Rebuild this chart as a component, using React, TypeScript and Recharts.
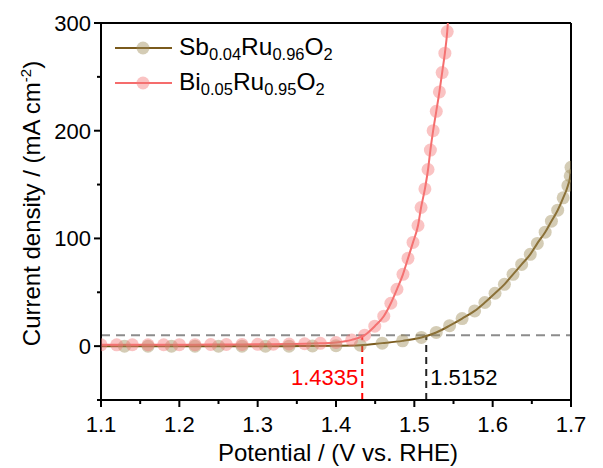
import { LineChart, Line, XAxis, YAxis, ReferenceLine, Legend } from 'recharts';

const FONT = '"Liberation Sans", Arial, sans-serif';

// Sb0.04Ru0.96O2
const sbPotential = [
  1.1, 1.13, 1.16, 1.19, 1.22, 1.25, 1.28, 1.31, 1.34, 1.37, 1.4, 1.431, 1.459, 1.485, 1.509, 1.528,
  1.545, 1.561, 1.577, 1.59, 1.603, 1.615, 1.626, 1.637, 1.648, 1.657, 1.667, 1.675, 1.683, 1.69,
  1.696, 1.699, 1.7
];
const sbCurrent = [
  0, 0, 0, 0, 0, 0, 0, 0, 0, 0.2, 0.4, 0.9, 2.8, 4.9, 8.1, 12.7, 19, 25.6, 32.7, 40.5, 49.1, 57.4,
  66.7, 75.9, 85.2, 95.4, 105.8, 116, 126.2, 137.7, 149, 158, 166
];

// Bi0.05Ru0.95O2
const biPotential = [
  1.1, 1.12, 1.14, 1.16, 1.18, 1.2, 1.22, 1.24, 1.26, 1.28, 1.3, 1.32, 1.34, 1.36, 1.38, 1.4, 1.42,
  1.4366, 1.4495, 1.461, 1.47, 1.4778, 1.4855, 1.4919, 1.4983, 1.5047, 1.5086, 1.5135, 1.5175,
  1.5205, 1.524, 1.528, 1.532, 1.5355, 1.539, 1.542, 1.5428
];
const biCurrent = [
  1.2, 1.2, 1.3, 1.3, 1.3, 1.4, 1.4, 1.5, 1.5, 1.6, 1.7, 1.8, 2.0, 2.2, 2.6, 3.4, 5.8, 10.2, 18.5,
  27.8, 39.8, 52.8, 66.7, 81.5, 96.3, 112, 128.7, 146, 164, 182, 200, 218, 236, 254, 272, 292, 300
];

const xTicks = [1.1, 1.15, 1.2, 1.25, 1.3, 1.35, 1.4, 1.45, 1.5, 1.55, 1.6, 1.65, 1.7];
const yTicks = [-50, 0, 50, 100, 150, 200, 250, 300];
const refCurrent = 10;
const onsetBi = 1.4335;
const onsetSb = 1.5152;

const sbData = sbPotential.map((v, i) => ({ v, j: sbCurrent[i] }));
const biData = biPotential.map((v, i) => ({ v, j: biCurrent[i] }));

const SB_LINE = '#7a5a1c';
const SB_DOT = '#a08f5c';
const BI_LINE = '#f56c6c';
const BI_DOT = '#f37b7b';

const makeDot = (fill: string, skip: number[]) => (props: any) => {
  const { cx, cy, index } = props;
  if (cx == null || cy == null || skip.includes(index)) return <g key={`d${index}`} />;
  return <circle key={`d${index}`} cx={cx} cy={cy} r={6.5} fill={fill} fillOpacity={0.45} stroke='none' />;
};

const XTick = ({ x, y, payload }: any) => {
  const major = Math.round(payload.value * 100) % 10 === 0;
  return (
    <g>
      <line x1={x} x2={x} y1={y} y2={y + (major ? 7 : 4)} stroke='#000' strokeWidth={2} />
      {major && (
        <text x={x} y={y + 32} textAnchor='middle' fontSize={22} fontFamily={FONT} fill='#000'>
          {payload.value.toFixed(1)}
        </text>
      )}
    </g>
  );
};

const YTick = ({ x, y, payload }: any) => {
  const major = payload.value % 100 === 0;
  return (
    <g>
      <line x1={x} x2={x - (major ? 7 : 4)} y1={y} y2={y} stroke='#000' strokeWidth={2} />
      {major && (
        <text x={x - 10} y={y} dy='0.36em' textAnchor='end' fontSize={22} fontFamily={FONT} fill='#000'>
          {payload.value}
        </text>
      )}
    </g>
  );
};

const RightTick = ({ x, y, payload }: any) => (
  <text x={x + 4} y={y} dy='0.36em' textAnchor='start' fontSize={22} fontFamily={FONT} fill='#000'>
    {payload.value}
  </text>
);

const XTitle = (props: any) => {
  const vb = props.viewBox || { x: 101, y: 400, width: 470, height: 68 };
  return (
    <text x={vb.x + vb.width / 2 + 2} y={vb.y + 61} textAnchor='middle' fontSize={24} fontFamily={FONT} fill='#000'>
      Potential / (V vs. RHE)
    </text>
  );
};

const YTitle = (props: any) => {
  const vb = props.viewBox || { x: 0, y: 23, width: 101, height: 377 };
  const cx = vb.x + 40;
  const cy = vb.y + vb.height / 2 - 8;
  return (
    <text transform={`translate(${cx},${cy}) rotate(-90)`} textAnchor='middle' fontSize={24} fontFamily={FONT} fill='#000'>
      Current density / (mA cm
      <tspan fontSize={15} dy={-9}>-2</tspan>
      <tspan dy={9}>)</tspan>
    </text>
  );
};

const OnsetLabel = (text: string, color: string, side: 'left' | 'right') => (props: any) => {
  const vb = props.viewBox;
  if (!vb) return null;
  return (
    <text
      x={side === 'left' ? vb.x - 4 : vb.x + 4}
      y={vb.y + vb.height - 15}
      textAnchor={side === 'left' ? 'end' : 'start'}
      fontSize={22}
      fontFamily={FONT}
      fill={color}
    >
      {text}
    </text>
  );
};

const Sub = ({ children }: any) => (
  <span style={{ fontSize: 16.5, position: 'relative', top: 5 }}>{children}</span>
);

const legendItems = [
  { line: SB_LINE, dot: SB_DOT, label: <>Sb<Sub>0.04</Sub>Ru<Sub>0.96</Sub>O<Sub>2</Sub></> },
  { line: BI_LINE, dot: BI_DOT, label: <>Bi<Sub>0.05</Sub>Ru<Sub>0.95</Sub>O<Sub>2</Sub></> }
];

const LegendBox = () => (
  <div style={{ fontFamily: FONT, fontSize: 24.5, color: '#000', lineHeight: '35px' }}>
    {legendItems.map((it, i) => (
      <div key={i} style={{ display: 'flex', alignItems: 'center', height: 35 }}>
        <svg width={64} height={20} style={{ display: 'block' }}>
          <line x1={0} x2={57} y1={10} y2={10} stroke={it.line} strokeWidth={2} />
          <circle cx={28} cy={10} r={6.5} fill={it.dot} fillOpacity={0.45} />
        </svg>
        <span style={{ whiteSpace: 'nowrap' }}>{it.label}</span>
      </div>
    ))}
  </div>
);

export default function App() {
  return (
    <div style={{ position: 'absolute', left: 0, top: 0 }}>
      <LineChart width={603} height={468} margin={{ top: 23, right: 0, bottom: 0, left: 0 }}>
        <XAxis
          dataKey='v'
          type='number'
          domain={[1.1, 1.7]}
          ticks={xTicks}
          allowDataOverflow
          height={68}
          tickSize={0}
          tickMargin={0}
          tickLine={false}
          tick={<XTick />}
          axisLine={{ stroke: '#000', strokeWidth: 2 }}
          label={<XTitle />}
        />
        <YAxis
          type='number'
          domain={[-50, 300]}
          ticks={yTicks}
          allowDataOverflow
          width={101}
          tickSize={0}
          tickMargin={0}
          tickLine={false}
          tick={<YTick />}
          axisLine={{ stroke: '#000', strokeWidth: 2 }}
          label={<YTitle />}
        />
        <YAxis
          yAxisId='right'
          orientation='right'
          type='number'
          domain={[-50, 300]}
          ticks={[refCurrent]}
          width={32}
          tickSize={0}
          tickMargin={0}
          tickLine={false}
          tick={<RightTick />}
          axisLine={{ stroke: '#000', strokeWidth: 2 }}
        />
        <ReferenceLine y={300} stroke='#000' strokeWidth={2} />
        <ReferenceLine y={refCurrent} stroke='#8c8c8c' strokeWidth={2} strokeDasharray='9 6' />
        <ReferenceLine
          segment={[{ x: onsetBi, y: -50 }, { x: onsetBi, y: refCurrent }]}
          stroke='#ff0000'
          strokeWidth={2}
          strokeDasharray='7 5'
          label={OnsetLabel('1.4335', '#ff0000', 'left')}
        />
        <ReferenceLine
          segment={[{ x: onsetSb, y: -50 }, { x: onsetSb, y: refCurrent }]}
          stroke='#222'
          strokeWidth={2}
          strokeDasharray='7 5'
          label={OnsetLabel('1.5152', '#000', 'right')}
        />
        <Line
          data={sbData}
          dataKey='j'
          type='monotone'
          stroke={SB_LINE}
          strokeWidth={2}
          dot={makeDot(SB_DOT, [0])}
          activeDot={false}
          isAnimationActive={false}
        />
        <Line
          data={biData}
          dataKey='j'
          type='monotone'
          stroke={BI_LINE}
          strokeWidth={2}
          dot={makeDot(BI_DOT, [biData.length - 1])}
          activeDot={false}
          isAnimationActive={false}
        />
        <Legend
          layout='vertical'
          align='center'
          verticalAlign='middle'
          wrapperStyle={{ left: 115, top: 30, width: 260 }}
          content={<LegendBox />}
        />
      </LineChart>
    </div>
  );
}
